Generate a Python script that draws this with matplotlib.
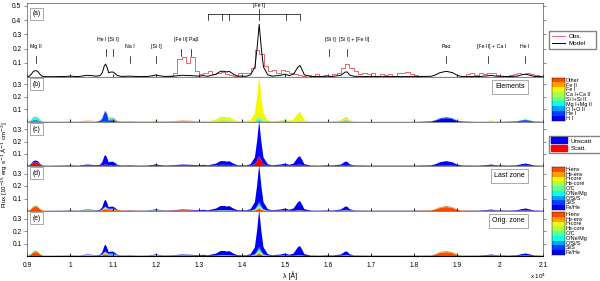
import numpy as np
import matplotlib
matplotlib.use("Agg")
import matplotlib.pyplot as plt
from matplotlib.patches import Patch

plt.rcParams['font.family'] = ['Liberation Sans', 'DejaVu Sans']

# ---------------- data ----------------
model_wl = [0.90, 0.905, 0.91, 0.915, 0.92, 0.925, 0.93, 0.935, 0.94, 0.95, 0.97, 0.99, 1.00, 1.01,
            1.02, 1.03, 1.04, 1.05, 1.06, 1.07, 1.075, 1.08, 1.083, 1.087, 1.09, 1.095, 1.10, 1.105,
            1.11, 1.12, 1.14, 1.16, 1.18, 1.195, 1.20, 1.205, 1.22, 1.24, 1.26, 1.28, 1.30, 1.31,
            1.32, 1.34, 1.35, 1.36, 1.365, 1.37, 1.38, 1.39, 1.41, 1.42, 1.43, 1.435, 1.44, 1.445,
            1.45, 1.46, 1.47, 1.49, 1.50, 1.51, 1.52, 1.53, 1.535, 1.54, 1.545, 1.56, 1.58, 1.60,
            1.61, 1.63, 1.64, 1.645, 1.65, 1.66, 1.70, 1.75, 1.80, 1.84, 1.85, 1.86, 1.875, 1.89,
            1.90, 1.91, 1.95, 1.97, 1.98, 1.99, 2.02, 2.04, 2.05, 2.06, 2.07, 2.08, 2.10]
model_flux = [0.002, 0.005, 0.02, 0.04, 0.045, 0.04, 0.02, 0.006, 0.003, 0.002, 0.003, 0.004, 0.006, 0.004,
              0.003, 0.008, 0.012, 0.010, 0.006, 0.010, 0.03, 0.08, 0.09, 0.06, 0.03, 0.035, 0.035, 0.025,
              0.010, 0.004, 0.006, 0.003, 0.004, 0.010, 0.015, 0.010, 0.004, 0.006, 0.012, 0.010, 0.006, 0.010,
              0.005, 0.020, 0.040, 0.040, 0.035, 0.040, 0.020, 0.006, 0.005, 0.015, 0.07, 0.20, 0.37, 0.20,
              0.07, 0.015, 0.006, 0.012, 0.020, 0.010, 0.020, 0.07, 0.08, 0.05, 0.015, 0.004, 0.003, 0.006,
              0.004, 0.012, 0.035, 0.035, 0.015, 0.005, 0.003, 0.003, 0.003, 0.005, 0.015, 0.030, 0.040, 0.030,
              0.012, 0.004, 0.003, 0.008, 0.012, 0.006, 0.003, 0.006, 0.015, 0.020, 0.012, 0.004, 0.002]

obs_wl = [1.225, 1.235, 1.245, 1.255, 1.265, 1.275, 1.285, 1.295, 1.305, 1.315, 1.325, 1.335, 1.345,
          1.355, 1.365, 1.375, 1.385, 1.395, 1.405, 1.415, 1.425, 1.435, 1.445, 1.455, 1.465, 1.475,
          1.485, 1.495, 1.505, 1.515, 1.525, 1.535, 1.545, 1.555, 1.565, 1.575, 1.585, 1.595, 1.605,
          1.615, 1.625, 1.635, 1.645, 1.655, 1.665, 1.675, 1.685, 1.695, 1.705, 1.715, 1.725, 1.735,
          1.745, 1.755, 1.765, 1.775, 1.785, 1.795, 1.805, 1.815,
          1.905, 1.915, 1.925, 1.935, 1.945, 1.955, 1.965, 1.975, 1.985, 1.995, 2.005, 2.015, 2.025,
          2.035, 2.045, 2.055, 2.065, 2.075, 2.085, 2.095]
obs_flux = [0.005, 0.010, 0.030, 0.130, 0.140, 0.100, 0.140, 0.040, 0.020, 0.025, 0.040, 0.020, 0.030,
            0.035, 0.020, 0.015, 0.010, 0.030, 0.025, 0.030, 0.060, 0.190, 0.160, 0.080, 0.040, 0.050,
            0.030, 0.050, 0.040, 0.025, 0.020, 0.015, 0.010, 0.015, 0.010, 0.020, 0.010, 0.015, 0.010,
            0.020, 0.025, 0.060, 0.090, 0.060, 0.040, 0.020, 0.030, 0.020, 0.025, 0.010, 0.020, 0.015,
            0.020, 0.010, 0.025, 0.030, 0.035, 0.020, 0.015, np.nan,
            np.nan, 0.010, 0.020, 0.025, 0.015, 0.025, 0.020, 0.025, 0.030, 0.015, 0.005, 0.010, 0.015,
            0.020, 0.025, 0.020, 0.030, 0.020, 0.015, 0.010]

# line identifications: tick wavelength, level (0 low / 1 high)
id_wl = [0.92, 1.083, 1.099, 1.14, 1.20, 1.257, 1.282, 1.602, 1.645, 1.875, 1.972, 2.058]
id_level = [0, 1, 1, 0, 0, 1, 1, 1, 1, 0, 0, 0]
# labels and their centres
lab_text = ["Mg II", "He I [Si I]", "Na I", "[Si I]", "[Fe II] Paβ", "[Si I]",
            "[Si I] + [Fe II]", "Paα", "[Fe II] + Ca I", "He I"]
lab_pos = [0.92, 1.089, 1.14, 1.20, 1.27, 1.605, 1.662, 1.875, 1.98, 2.058]
lab_level = [0, 1, 0, 0, 1, 1, 1, 0, 0, 0]
fe1_wl = [1.3217, 1.3527, 1.3705, 1.440, 1.5023, 1.535]

# composition regions
region_edges = [0.9, 0.95, 1.07, 1.09, 1.11, 1.18, 1.22, 1.30, 1.42, 1.46, 1.52, 1.55, 1.62,
                1.66, 1.82, 1.92, 2.02, 2.11]
elem_names = ["H I", "He I", "O I+O II", "Mg I+Mg II", "Si I+Si II", "Ca I+Ca II", "Fe I", "Fe II", "Other"]
elem_share = [
    [0.05, 0.05, 0.30, 0.45, 0.10, 0.00, 0.00, 0.00, 0.05],
    [0.00, 0.05, 0.10, 0.05, 0.10, 0.30, 0.20, 0.10, 0.10],
    [0.05, 0.85, 0.05, 0.00, 0.00, 0.00, 0.00, 0.00, 0.05],
    [0.00, 0.40, 0.20, 0.10, 0.20, 0.00, 0.00, 0.00, 0.10],
    [0.00, 0.00, 0.00, 0.00, 0.00, 0.20, 0.00, 0.40, 0.40],
    [0.00, 0.00, 0.10, 0.10, 0.50, 0.30, 0.00, 0.00, 0.00],
    [0.15, 0.00, 0.00, 0.00, 0.00, 0.10, 0.10, 0.50, 0.15],
    [0.00, 0.00, 0.00, 0.05, 0.15, 0.25, 0.50, 0.05, 0.00],
    [0.00, 0.00, 0.02, 0.03, 0.05, 0.05, 0.85, 0.00, 0.00],
    [0.00, 0.00, 0.10, 0.30, 0.30, 0.10, 0.20, 0.00, 0.00],
    [0.00, 0.00, 0.00, 0.00, 0.05, 0.15, 0.80, 0.00, 0.00],
    [0.00, 0.00, 0.00, 0.10, 0.40, 0.20, 0.30, 0.00, 0.00],
    [0.00, 0.10, 0.00, 0.10, 0.30, 0.10, 0.20, 0.20, 0.00],
    [0.00, 0.00, 0.00, 0.00, 0.20, 0.30, 0.50, 0.00, 0.00],
    [0.75, 0.20, 0.05, 0.00, 0.00, 0.00, 0.00, 0.00, 0.00],
    [0.00, 0.00, 0.00, 0.05, 0.15, 0.50, 0.30, 0.00, 0.00],
    [0.10, 0.70, 0.20, 0.00, 0.00, 0.00, 0.00, 0.00, 0.00],
]
scatt_share = [0.7, 0.4, 0.15, 0.2, 0.5, 0.3, 0.3, 0.25, 0.22, 0.25, 0.15, 0.3, 0.25, 0.3, 0.1, 0.3, 0.15]
zone_names = ["Fe/He", "Si/S", "O/Si/S", "O/Ne/Mg", "O/C", "He-core", "H-core", "He-env", "H-env"]
zone_share_last = [
    [0.00, 0.00, 0.00, 0.05, 0.05, 0.00, 0.00, 0.15, 0.75],
    [0.30, 0.05, 0.05, 0.05, 0.20, 0.10, 0.00, 0.05, 0.20],
    [0.60, 0.05, 0.00, 0.00, 0.05, 0.05, 0.00, 0.10, 0.15],
    [0.40, 0.20, 0.05, 0.05, 0.05, 0.00, 0.00, 0.05, 0.20],
    [0.30, 0.00, 0.00, 0.00, 0.00, 0.00, 0.00, 0.20, 0.50],
    [0.30, 0.10, 0.10, 0.10, 0.20, 0.00, 0.00, 0.00, 0.20],
    [0.40, 0.00, 0.00, 0.00, 0.00, 0.00, 0.00, 0.10, 0.50],
    [0.80, 0.05, 0.02, 0.02, 0.03, 0.00, 0.00, 0.03, 0.05],
    [0.80, 0.03, 0.03, 0.02, 0.03, 0.02, 0.00, 0.02, 0.05],
    [0.70, 0.05, 0.00, 0.00, 0.05, 0.00, 0.00, 0.05, 0.15],
    [0.90, 0.03, 0.00, 0.00, 0.00, 0.00, 0.00, 0.02, 0.05],
    [0.50, 0.20, 0.00, 0.00, 0.10, 0.00, 0.00, 0.00, 0.20],
    [0.75, 0.10, 0.00, 0.00, 0.05, 0.00, 0.00, 0.03, 0.07],
    [0.40, 0.10, 0.00, 0.00, 0.10, 0.00, 0.00, 0.10, 0.30],
    [0.03, 0.00, 0.00, 0.00, 0.00, 0.00, 0.00, 0.17, 0.80],
    [0.55, 0.05, 0.00, 0.00, 0.05, 0.00, 0.00, 0.05, 0.30],
    [0.75, 0.05, 0.00, 0.00, 0.00, 0.00, 0.00, 0.05, 0.15],
]
zone_share_orig = [
    [0.00, 0.00, 0.00, 0.05, 0.05, 0.00, 0.00, 0.20, 0.70],
    [0.30, 0.05, 0.05, 0.05, 0.20, 0.10, 0.00, 0.05, 0.20],
    [0.60, 0.05, 0.00, 0.00, 0.05, 0.05, 0.00, 0.10, 0.15],
    [0.40, 0.20, 0.05, 0.05, 0.05, 0.00, 0.00, 0.05, 0.20],
    [0.30, 0.00, 0.00, 0.00, 0.00, 0.00, 0.00, 0.20, 0.50],
    [0.30, 0.10, 0.10, 0.10, 0.20, 0.00, 0.00, 0.00, 0.20],
    [0.40, 0.00, 0.00, 0.00, 0.00, 0.00, 0.00, 0.10, 0.50],
    [0.80, 0.05, 0.02, 0.02, 0.03, 0.00, 0.00, 0.03, 0.05],
    [0.80, 0.03, 0.03, 0.02, 0.03, 0.02, 0.00, 0.02, 0.05],
    [0.70, 0.05, 0.00, 0.00, 0.05, 0.00, 0.00, 0.05, 0.15],
    [0.90, 0.03, 0.00, 0.00, 0.00, 0.00, 0.00, 0.02, 0.05],
    [0.50, 0.20, 0.00, 0.00, 0.10, 0.00, 0.00, 0.00, 0.20],
    [0.75, 0.10, 0.00, 0.00, 0.05, 0.00, 0.00, 0.03, 0.07],
    [0.40, 0.10, 0.00, 0.00, 0.10, 0.00, 0.00, 0.10, 0.30],
    [0.03, 0.00, 0.00, 0.00, 0.00, 0.00, 0.00, 0.20, 0.77],
    [0.55, 0.05, 0.00, 0.00, 0.05, 0.00, 0.00, 0.05, 0.30],
    [0.75, 0.05, 0.00, 0.00, 0.00, 0.00, 0.00, 0.05, 0.15],
]

xticks = [0.9, 1.0, 1.1, 1.2, 1.3, 1.4, 1.5, 1.6, 1.7, 1.8, 1.9, 2.0, 2.1]
xticklabels = ["0.9", "1", "1.1", "1.2", "1.3", "1.4", "1.5", "1.6", "1.7", "1.8", "1.9", "2", "2.1"]

# ---------------- helpers ----------------
x = np.array(model_wl)
f = np.array(model_flux)
reg = np.clip(np.searchsorted(region_edges, x, side='right') - 1, 0, len(region_edges) - 2)

def layers(share):
    s = np.array(share)[reg]
    s = s / s.sum(axis=1, keepdims=True)
    return [f * s[:, k] for k in range(s.shape[1])]

jet = plt.get_cmap('jet')
cat_colors = [jet(v) for v in np.linspace(0.10, 0.83, 9)]

W, H = 600, 281
fig = plt.figure(figsize=(6.0, 2.81), dpi=100)

def fax(x0, y0, x1, y1):
    return fig.add_axes([x0 / W, 1 - y1 / H, (x1 - x0) / W, (y1 - y0) / H])

L, R = 27, 543
ax_a = fax(L, 3, R, 77)
ax_b = fax(L, 77, R, 122)
ax_c = fax(L, 122, R, 166)
ax_d = fax(L, 166, R, 211)
ax_e = fax(L, 211, R, 256)
axes = [ax_a, ax_b, ax_c, ax_d, ax_e]

fs = 4.8
for i, ax in enumerate(axes):
    ax.set_xlim(0.9, 2.1)
    ax.set_xticks(xticks)
    ax.tick_params(axis='x', direction='in', length=2.5, width=0.6, labelsize=fs, pad=4)
    ax.tick_params(axis='y', direction='out', length=2.5, width=0.4, labelsize=fs, pad=1.5,
                   right=True, colors='#333333')
    ax.tick_params(axis='y', labelcolor='black')
    for sp in ax.spines.values():
        sp.set_linewidth(0.5)
        sp.set_color('#555555')
    ax.spines['bottom'].set_color('black')
    ax.spines['bottom'].set_linewidth(0.8)
    if i < 4:
        ax.set_xticklabels([])
    else:
        ax.set_xticklabels(xticklabels)

# panel a
ax_a.set_ylim(0, 0.52)
ax_a.set_yticks([0.1, 0.2, 0.3, 0.4, 0.5])
ax_a.set_yticklabels(["0.1", "0.2", "0.3", "0.4", "0.5"])
ax_a.step(obs_wl, obs_flux, where='mid', color='#e0505a', lw=0.6, label='Obs.')
ax_a.plot(model_wl, model_flux, color='black', lw=0.7, label='Model')

lev_text = [0.20, 0.245]
lev_tick = [(0.10, 0.145), (0.148, 0.195)]
for wl, lv in zip(id_wl, id_level):
    ax_a.plot([wl, wl], lev_tick[lv], color='black', lw=0.5)
for txt, pos, lv in zip(lab_text, lab_pos, lab_level):
    ax_a.text(pos, lev_text[lv], txt, ha='center', va='bottom', fontsize=3.8)
# [Fe I] multiplet bracket
ax_a.plot([fe1_wl[0], fe1_wl[-1]], [0.446, 0.446], color='black', lw=0.5)
for wl in fe1_wl:
    ax_a.plot([wl, wl], [0.40, 0.446], color='black', lw=0.5)
ax_a.plot([1.44, 1.44], [0.446, 0.478], color='black', lw=0.5)
ax_a.text(1.44, 0.485, "[Fe I]", ha='center', va='bottom', fontsize=3.8)

ax_a.legend(loc='lower left', bbox_to_anchor=(1.012, 0.38, 0.09, 0.26), fontsize=4.5,
            frameon=True, fancybox=False, edgecolor='#666666', handlelength=2.2,
            borderpad=0.4, labelspacing=0.3, handletextpad=0.5, mode='expand',
            borderaxespad=0)

# panels b-e
for ax in axes[1:]:
    ax.set_ylim(0, 0.36)
    ax.set_yticks([0.1, 0.2, 0.3])
    ax.set_yticklabels(["0.1", "0.2", "0.3"])

ax_b.stackplot(x, *layers(elem_share), colors=cat_colors, lw=0)
scat = f * np.array(scatt_share)[reg]
ax_c.stackplot(x, scat, f - scat, colors=['#ff0000', '#0000ff'], lw=0)
ld = layers(zone_share_last)
ax_d.stackplot(x, *ld[::-1], colors=cat_colors[::-1], lw=0)
le = layers(zone_share_orig)
ax_e.stackplot(x, *le[::-1], colors=cat_colors[::-1], lw=0)

ax_c.legend(handles=[Patch(color='#0000ff', label='Unscatt'), Patch(color='#ff0000', label='Scatt.')],
            loc='lower left', bbox_to_anchor=(1.012, 0.30, 0.11, 0.38), fontsize=4.5,
            frameon=True, fancybox=False, edgecolor='#666666', handlelength=2.6, handleheight=1.1,
            borderpad=0.3, labelspacing=0.2, handletextpad=0.5, mode='expand', borderaxespad=0)

# panel labels and boxes
bbox = dict(boxstyle='square,pad=0.35', fc='white', ec='#888888', lw=0.5)
for ax, lab in zip(axes, ["(a)", "(b)", "(c)", "(d)", "(e)"]):
    ax.text(0.011, 0.92 if ax is not ax_a else 0.9, lab, transform=ax.transAxes, fontsize=4.8,
            ha='left', va='top', bbox=bbox)
bbox2 = dict(boxstyle='square,pad=0.5', fc='white', ec='#888888', lw=0.5)
for ax, lab in zip([ax_b, ax_d, ax_e], ["Elements", "Last zone", "Orig. zone"]):
    ax.text(0.965, 0.78, lab, transform=ax.transAxes, fontsize=5, ha='right', va='center',
            bbox=bbox2)

# colorbars
def cbar(y0, y1, names):
    cax = fax(552, y0, 565, y1)
    img = np.array(cat_colors)[:, :3][::-1].reshape(9, 1, 3)
    cax.imshow(img, aspect='auto', interpolation='nearest', extent=(0, 1, 0, 9))
    cax.set_xlim(0, 1)
    cax.set_ylim(0, 9)
    cax.set_xticks([])
    cax.set_yticks([])
    for sp in cax.spines.values():
        sp.set_linewidth(0.3)
    for k, nm in enumerate(names):
        cax.text(1.05, k + 0.5, nm, fontsize=3.9, ha='left', va='center', transform=cax.transData,
                 clip_on=False)

cbar(78, 121, elem_names)
cbar(167, 210, zone_names)
cbar(212, 255, zone_names)

fig.text(4.5 / W, 1 - 165 / H, "Flux [10$^{-15}$ erg s$^{-1}$ Å$^{-1}$ cm$^{-2}$]", rotation=90,
         ha='center', va='center', fontsize=4.5)
fig.text(290 / W, 1 - 276 / H, "λ [Å]", ha='center', va='center', fontsize=5)
fig.text(538 / W, 1 - 276 / H, "x 10$^4$", ha='center', va='center', fontsize=4.5)

fig.savefig("out.png", dpi=100)
